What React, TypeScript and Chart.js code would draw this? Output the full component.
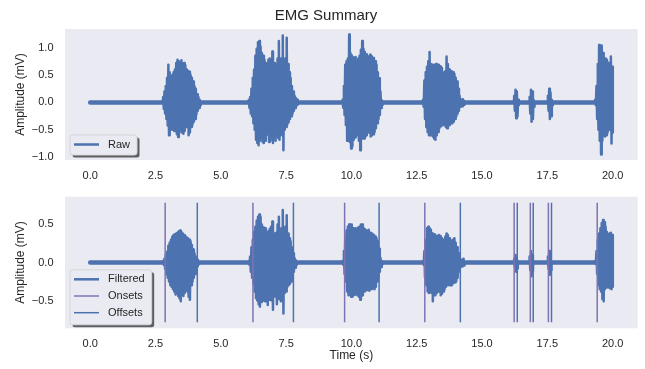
import React, { useEffect, useRef } from 'react';
import { Chart, registerables } from 'chart.js';

Chart.register(...registerables);

// ---- recording / axes ----
const recordEnd = 20.02; // seconds
const binWidth = 0.05; // each envelope bin holds one peak and one trough

const timeTicks = [0, 2.5, 5, 7.5, 10, 12.5, 15, 17.5, 20];
const rawAmpTicks = [-1, -0.5, 0, 0.5, 1];
const filtAmpTicks = [-0.5, 0, 0.5];

// ---- raw EMG: burst start times and per-bin peak / trough amplitudes (mV) ----
const rawBurstStart = [2.78, 6.06, 9.65, 12.73, 16.22, 16.81, 17.51, 19.32];
const rawBurstUpper = [
  [0.1, 0.2, 0.3, 0.45, 0.69, 0.55, 0.45, 0.5, 0.55, 0.6, 0.72, 0.78, 0.75, 0.7, 0.77, 0.7, 0.72, 0.68, 0.6, 0.58, 0.56, 0.5, 0.45, 0.38, 0.3, 0.25, 0.15, 0.1, 0.05],
  [0.05, 0.1, 0.25, 0.45, 0.6, 0.85, 0.98, 1.1, 1.12, 1.02, 0.9, 0.85, 0.78, 0.72, 0.7, 0.78, 0.8, 0.75, 0.93, 0.7, 0.72, 0.68, 0.8, 1.12, 0.8, 0.7, 1.22, 0.72, 0.8, 1.18, 0.7, 0.55, 0.45, 0.3, 0.2, 0.12, 0.08, 0.05],
  [0.05, 0.3, 0.69, 0.75, 0.8, 1.24, 0.9, 0.86, 0.82, 0.81, 0.83, 0.75, 0.8, 0.85, 0.96, 1.12, 0.98, 0.92, 0.88, 0.81, 0.84, 0.87, 0.84, 0.81, 0.81, 0.75, 0.69, 0.55, 0.44, 0.2, 0.04],
  [0.05, 0.4, 0.55, 0.65, 0.75, 0.92, 0.7, 0.69, 0.66, 0.69, 0.7, 0.69, 0.69, 0.66, 0.63, 0.55, 0.54, 0.57, 0.84, 0.7, 0.6, 0.57, 0.57, 0.55, 0.52, 0.45, 0.38, 0.25, 0.12, 0.05, 0.06, 0.04],
  [0.12, 0.23, 0.2, 0.05],
  [0.1, 0.23, 0.2, 0.05],
  [0.12, 0.25, 0.18, 0.05],
  [0.05, 0.3, 0.7, 1.05, 1.02, 1.04, 0.9, 0.75, 0.8, 0.78, 0.72, 0.7, 0.84, 0.65],
];
const rawBurstLower = [
  [-0.12, -0.2, -0.3, -0.42, -0.6, -0.5, -0.45, -0.5, -0.52, -0.5, -0.58, -0.63, -0.55, -0.5, -0.55, -0.57, -0.52, -0.45, -0.42, -0.6, -0.55, -0.45, -0.4, -0.35, -0.3, -0.22, -0.15, -0.1, -0.05],
  [-0.1, -0.2, -0.25, -0.38, -0.5, -0.68, -0.74, -0.78, -0.7, -0.62, -0.72, -0.74, -0.7, -0.6, -0.55, -0.72, -0.7, -0.62, -0.74, -0.55, -0.7, -0.6, -0.65, -0.68, -0.6, -0.55, -0.87, -0.5, -0.45, -0.4, -0.36, -0.3, -0.25, -0.2, -0.15, -0.1, -0.06, -0.04],
  [-0.1, -0.23, -0.41, -0.7, -0.68, -0.72, -0.84, -0.8, -0.68, -0.64, -0.6, -0.56, -0.7, -0.87, -0.62, -0.66, -0.66, -0.62, -0.6, -0.55, -0.54, -0.62, -0.6, -0.58, -0.54, -0.47, -0.38, -0.3, -0.23, -0.1, -0.04],
  [-0.08, -0.3, -0.45, -0.54, -0.6, -0.6, -0.54, -0.62, -0.66, -0.68, -0.6, -0.54, -0.47, -0.44, -0.42, -0.41, -0.38, -0.45, -0.47, -0.42, -0.41, -0.38, -0.38, -0.35, -0.3, -0.25, -0.2, -0.15, -0.08, -0.04, -0.07, -0.04],
  [-0.15, -0.29, -0.25, -0.05],
  [-0.2, -0.35, -0.3, -0.08],
  [-0.15, -0.3, -0.25, -0.05],
  [-0.05, -0.3, -0.5, -0.7, -0.95, -0.7, -0.6, -0.62, -0.6, -0.55, -0.5, -0.5, -0.75, -0.55],
];

// ---- filtered EMG ----
const filtBurstStart = [2.78, 6.06, 9.65, 12.73, 16.22, 16.81, 17.51, 19.32];
const filtBurstUpper = [
  [0.02, 0.05, 0.1, 0.14, 0.22, 0.26, 0.3, 0.34, 0.36, 0.37, 0.38, 0.39, 0.41, 0.42, 0.4, 0.38, 0.36, 0.35, 0.33, 0.32, 0.3, 0.28, 0.23, 0.17, 0.12, 0.08, 0.04, 0.02],
  [0.02, 0.08, 0.2, 0.3, 0.4, 0.47, 0.55, 0.6, 0.63, 0.6, 0.5, 0.46, 0.45, 0.45, 0.39, 0.41, 0.44, 0.47, 0.54, 0.36, 0.38, 0.39, 0.5, 0.6, 0.4, 0.45, 0.69, 0.45, 0.47, 0.62, 0.38, 0.32, 0.28, 0.2, 0.12, 0.06, 0.03],
  [0.02, 0.15, 0.3, 0.42, 0.47, 0.5, 0.5, 0.5, 0.45, 0.43, 0.45, 0.44, 0.46, 0.47, 0.5, 0.5, 0.45, 0.44, 0.42, 0.41, 0.43, 0.39, 0.38, 0.37, 0.36, 0.34, 0.32, 0.28, 0.18, 0.06, 0.02],
  [0.02, 0.15, 0.3, 0.45, 0.47, 0.45, 0.43, 0.38, 0.37, 0.37, 0.35, 0.34, 0.36, 0.35, 0.32, 0.3, 0.3, 0.34, 0.38, 0.36, 0.32, 0.3, 0.28, 0.3, 0.32, 0.26, 0.2, 0.12, 0.06, 0.02, 0.04, 0.05],
  [0.05, 0.1, 0.06],
  [0.08, 0.15, 0.1],
  [0.08, 0.15, 0.1],
  [0.02, 0.15, 0.3, 0.38, 0.45, 0.52, 0.56, 0.53, 0.47, 0.4, 0.37, 0.38, 0.39, 0.36],
];
const filtBurstLower = [
  [-0.03, -0.08, -0.15, -0.2, -0.25, -0.3, -0.32, -0.35, -0.38, -0.42, -0.4, -0.44, -0.47, -0.51, -0.42, -0.44, -0.4, -0.35, -0.38, -0.45, -0.49, -0.3, -0.25, -0.2, -0.15, -0.1, -0.05, -0.02],
  [-0.03, -0.12, -0.2, -0.28, -0.38, -0.47, -0.5, -0.55, -0.58, -0.52, -0.45, -0.5, -0.51, -0.5, -0.56, -0.49, -0.47, -0.5, -0.62, -0.43, -0.45, -0.55, -0.48, -0.47, -0.51, -0.5, -0.67, -0.4, -0.38, -0.32, -0.3, -0.28, -0.25, -0.18, -0.12, -0.07, -0.03],
  [-0.03, -0.15, -0.25, -0.38, -0.43, -0.42, -0.45, -0.45, -0.43, -0.42, -0.41, -0.43, -0.45, -0.49, -0.44, -0.43, -0.38, -0.37, -0.36, -0.36, -0.37, -0.35, -0.35, -0.34, -0.35, -0.32, -0.25, -0.2, -0.12, -0.06, -0.02],
  [-0.03, -0.2, -0.3, -0.38, -0.4, -0.38, -0.4, -0.51, -0.43, -0.43, -0.4, -0.38, -0.35, -0.43, -0.41, -0.38, -0.35, -0.32, -0.3, -0.28, -0.3, -0.3, -0.28, -0.27, -0.26, -0.24, -0.2, -0.12, -0.06, -0.02, -0.05, -0.04],
  [-0.06, -0.12, -0.08],
  [-0.1, -0.18, -0.12],
  [-0.08, -0.16, -0.1],
  [-0.02, -0.15, -0.3, -0.35, -0.38, -0.48, -0.51, -0.35, -0.33, -0.32, -0.33, -0.34, -0.35, -0.32],
];

// ---- detected activation events (s) ----
const onsetTimes = [2.87, 6.23, 9.74, 12.81, 16.23, 16.85, 17.54, 19.41];
const offsetTimes = [4.1, 7.78, 11.06, 14.17, 16.35, 16.96, 17.66];
const markerHalfSpan = 0.785;

// ---- styling ----
const FONT = "'Liberation Sans', Arial, sans-serif";
const TEXT = '#262626';
const BLUE = '#4C72B0';
const PURPLE = '#8172B3';
const PANEL_BG = '#EAEAF2';

type Pt = { x: number; y: number | null };

// Baseline at rest, then each burst as alternating peak/trough samples.
function buildTrace(starts: number[], uppers: number[][], lowers: number[][]): Pt[] {
  const pts: Pt[] = [{ x: 0, y: 0 }];
  starts.forEach((t0, b) => {
    const up = uppers[b];
    const lo = lowers[b];
    pts.push({ x: t0, y: 0 });
    const n = Math.min(up.length, lo.length);
    for (let i = 0; i < n; i++) {
      pts.push({ x: t0 + i * binWidth + binWidth * 0.25, y: up[i] });
      pts.push({ x: t0 + i * binWidth + binWidth * 0.75, y: lo[i] });
    }
    const end = t0 + n * binWidth;
    if (end < recordEnd) pts.push({ x: end, y: 0 });
  });
  const last = pts[pts.length - 1];
  if (last.y === 0 && last.x < recordEnd) pts.push({ x: recordEnd, y: 0 });
  return pts;
}

function markerLines(times: number[]): Pt[] {
  return times.flatMap((t) => [
    { x: t, y: -markerHalfSpan },
    { x: t, y: markerHalfSpan },
    { x: t, y: null },
  ]);
}

const fmtTick = (v: number) => {
  const s = Math.abs(v).toFixed(1);
  return v < 0 ? '\u2212' + s : s;
};

const panelBackground = {
  id: 'panelBackground',
  beforeDraw(chart: any) {
    const { ctx, chartArea: a } = chart;
    ctx.save();
    ctx.fillStyle = PANEL_BG;
    ctx.fillRect(a.left, a.top, a.right - a.left, a.bottom - a.top);
    ctx.restore();
  },
};

const figureTitle = {
  id: 'figureTitle',
  afterDraw(chart: any, _args: any, opts: any) {
    if (!opts || !opts.text) return;
    const { ctx } = chart;
    ctx.save();
    ctx.font = `15px ${FONT}`;
    ctx.fillStyle = TEXT;
    ctx.textAlign = 'center';
    ctx.textBaseline = 'middle';
    ctx.fillText(opts.text, opts.x, opts.y);
    ctx.restore();
  },
};

// Framed legend in the lower-left corner with a drop shadow.
const boxLegend = {
  id: 'boxLegend',
  afterDraw(chart: any, _args: any, opts: any) {
    const { ctx, chartArea: a } = chart;
    const items = chart.data.datasets
      .filter((d: any) => d.label)
      .map((d: any) => ({ label: d.label, color: d.borderColor, width: d.legendLineWidth || d.borderWidth }));
    if (!items.length) return;
    ctx.save();
    ctx.font = `11px ${FONT}`;
    const textW = Math.max(...items.map((it: any) => ctx.measureText(it.label).width));
    const rowH = 16.7;
    const w = 38 + textW + 7;
    const h = 20 + (items.length - 1) * 17.5;
    const x = a.left + 5;
    const y = a.bottom - opts.gap - h;
    const r = 2.5;
    const rr = (px: number, py: number) => {
      ctx.beginPath();
      ctx.moveTo(px + r, py);
      ctx.lineTo(px + w - r, py);
      ctx.arcTo(px + w, py, px + w, py + r, r);
      ctx.lineTo(px + w, py + h - r);
      ctx.arcTo(px + w, py + h, px + w - r, py + h, r);
      ctx.lineTo(px + r, py + h);
      ctx.arcTo(px, py + h, px, py + h - r, r);
      ctx.lineTo(px, py + r);
      ctx.arcTo(px, py, px + r, py, r);
      ctx.closePath();
    };
    rr(x + 2.5, y + 2.5);
    ctx.fillStyle = 'rgba(0,0,0,0.6)';
    ctx.fill();
    rr(x, y);
    ctx.fillStyle = PANEL_BG;
    ctx.fill();
    ctx.strokeStyle = '#d4d4d8';
    ctx.lineWidth = 1;
    ctx.stroke();
    items.forEach((it: any, i: number) => {
      const cy = y + 9.5 + i * rowH;
      ctx.beginPath();
      ctx.moveTo(x + 4, cy);
      ctx.lineTo(x + 29, cy);
      ctx.strokeStyle = it.color;
      ctx.lineWidth = it.width;
      ctx.stroke();
      ctx.fillStyle = TEXT;
      ctx.textAlign = 'left';
      ctx.textBaseline = 'middle';
      ctx.fillText(it.label, x + 38, cy);
    });
    ctx.restore();
  },
};

function makeConfig(p: {
  datasets: any[];
  yMin: number;
  yMax: number;
  yTicks: number[];
  padTop: number;
  xHeight: number;
  xTitle: boolean;
  legendGap: number;
  title?: { text: string; x: number; y: number };
}): any {
  return {
    type: 'line',
    data: { datasets: p.datasets },
    plugins: [panelBackground, figureTitle, boxLegend],
    options: {
      animation: false,
      responsive: false,
      events: [],
      layout: { padding: { left: 0, right: 7.3, top: p.padTop, bottom: 0 } },
      elements: { point: { radius: 0 } },
      plugins: {
        legend: { display: false },
        tooltip: { enabled: false },
        title: { display: false },
        figureTitle: p.title || {},
        boxLegend: { gap: p.legendGap },
      },
      scales: {
        x: {
          type: 'linear',
          min: -0.965,
          max: 20.96,
          grid: { display: false, drawTicks: false },
          border: { display: false },
          afterBuildTicks: (s: any) => {
            s.ticks = timeTicks.map((v) => ({ value: v }));
          },
          afterFit: (s: any) => {
            s.height = p.xHeight;
            s.paddingLeft = 0;
            s.paddingRight = 0;
          },
          ticks: {
            font: { family: FONT, size: 11 },
            color: TEXT,
            padding: 9.5,
            maxRotation: 0,
            autoSkip: false,
            callback: (v: any) => Number(v).toFixed(1),
          },
          title: {
            display: p.xTitle,
            text: 'Time (s)',
            font: { family: FONT, size: 12 },
            color: TEXT,
            padding: { top: 0, bottom: 6 },
          },
        },
        y: {
          type: 'linear',
          min: p.yMin,
          max: p.yMax,
          grid: { display: false, drawTicks: false },
          border: { display: false },
          afterBuildTicks: (s: any) => {
            s.ticks = p.yTicks.map((v) => ({ value: v }));
          },
          afterFit: (s: any) => {
            s.width = 65;
            s.paddingTop = 0;
            s.paddingBottom = 0;
          },
          ticks: {
            font: { family: FONT, size: 11 },
            color: TEXT,
            padding: 11.5,
            callback: (v: any) => fmtTick(Number(v)),
          },
          title: {
            display: true,
            text: 'Amplitude (mV)',
            font: { family: FONT, size: 12 },
            color: TEXT,
            padding: { top: 13.5, bottom: 0 },
          },
        },
      },
    },
  };
}

const signalSegment = {
  borderWidth: (c: any) => (c.p0.parsed.y === 0 && c.p1.parsed.y === 0 ? 4.5 : 2.5),
};

function signalDataset(label: string, data: Pt[]) {
  return {
    label,
    data,
    borderColor: BLUE,
    borderWidth: 2.5,
    legendLineWidth: 2.5,
    borderJoinStyle: 'round',
    borderCapStyle: 'round',
    tension: 0,
    pointRadius: 0,
    fill: false,
    order: 2,
    segment: signalSegment,
  };
}

function markerDataset(label: string, times: number[], color: string) {
  return {
    label,
    data: markerLines(times),
    borderColor: color,
    borderWidth: 1.5,
    legendLineWidth: 1.5,
    pointRadius: 0,
    fill: false,
    spanGaps: false,
    order: 1,
  };
}

export default function App() {
  const topRef = useRef<HTMLCanvasElement | null>(null);
  const bottomRef = useRef<HTMLCanvasElement | null>(null);

  useEffect(() => {
    if (!topRef.current || !bottomRef.current) return;
    const rawTrace = buildTrace(rawBurstStart, rawBurstUpper, rawBurstLower);
    const filtTrace = buildTrace(filtBurstStart, filtBurstUpper, filtBurstLower);

    const top = new Chart(
      topRef.current,
      makeConfig({
        datasets: [signalDataset('Raw', rawTrace)],
        yMin: -1.05,
        yMax: 1.34,
        yTicks: rawAmpTicks,
        padTop: 29,
        xHeight: 25,
        xTitle: false,
        legendGap: 5,
        title: { text: 'EMG Summary', x: 326, y: 15.5 },
      })
    );
    const bottom = new Chart(
      bottomRef.current,
      makeConfig({
        datasets: [
          signalDataset('Filtered', filtTrace),
          markerDataset('Onsets', onsetTimes, PURPLE),
          markerDataset('Offsets', offsetTimes, BLUE),
        ],
        yMin: -0.865,
        yMax: 0.865,
        yTicks: filtAmpTicks,
        padTop: 11.7,
        xHeight: 40.7,
        xTitle: true,
        legendGap: 3.5,
      })
    );
    return () => {
      top.destroy();
      bottom.destroy();
    };
  }, []);

  return (
    <div style={{ position: 'fixed', left: 0, top: 0, width: 645, height: 369, background: '#ffffff' }}>
      <canvas
        ref={topRef}
        width={645}
        height={185}
        style={{ position: 'absolute', left: 0, top: 0, width: 645, height: 185 }}
      />
      <canvas
        ref={bottomRef}
        width={645}
        height={184}
        style={{ position: 'absolute', left: 0, top: 185, width: 645, height: 184 }}
      />
    </div>
  );
}
